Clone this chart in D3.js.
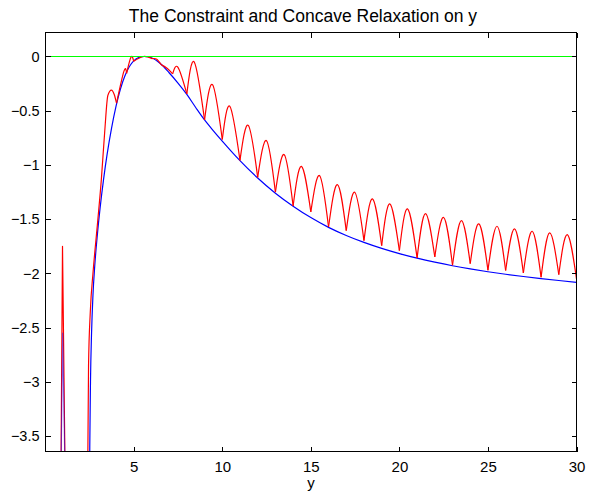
<!DOCTYPE html>
<html>
<head>
<meta charset="utf-8">
<script src="https://cdn.jsdelivr.net/npm/d3@7"></script>
<style>
  body { margin: 0; background: #fff; }
  svg text { font-family: "Liberation Sans", Arial, Helvetica, sans-serif; fill: #000; }
  .axis path, .axis line { stroke: #000; shape-rendering: crispEdges; }
</style>
</head>
<body>
<div id="chart"></div>
<script>
// Chart text
var TITLE = "The Constraint and Concave Relaxation on y";
var X_LABEL = "y";

// Tick values and labels
var xTicks = [5, 10, 15, 20, 25, 30];
var xTickLabels = ["5", "10", "15", "20", "25", "30"];
var yTicks = [0, -0.5, -1, -1.5, -2, -2.5, -3, -3.5];
var yTickLabels = ["0", "\u22120.5", "\u22121", "\u22121.5", "\u22122", "\u22122.5", "\u22123", "\u22123.5"];

// Axis limits
var xLimits = [0.02, 30];
var yLimits = [-3.641, 0.221];

// Green: constraint level
var greenX = [0.02, 30];
var greenY = [0, 0];

// Blue: concave relaxation
var blueX = [2.5, 2.52, 2.56, 2.62, 2.7, 2.8, 2.95, 3.1, 3.3, 3.5, 3.75, 4.0, 4.25, 4.5, 4.75, 5.0, 5.3, 5.6, 6.0, 6.5, 7.0, 7.5, 8.0, 8.5, 9.0, 9.5, 10, 10.5, 11, 12, 13, 14, 15, 16, 17, 18, 19, 20, 21, 22, 23, 24, 25, 26, 27, 28, 29, 30];
var blueY = [-4.2, -3.6, -3.0, -2.55, -2.2, -1.93, -1.64, -1.4, -1.13, -0.9, -0.66, -0.46, -0.3, -0.18, -0.095, -0.04, -0.008, 0, -0.012, -0.065, -0.15, -0.245, -0.35, -0.47, -0.585, -0.685, -0.78, -0.872, -0.96, -1.12, -1.26, -1.38, -1.485, -1.575, -1.65, -1.714, -1.769, -1.817, -1.859, -1.896, -1.929, -1.958, -1.984, -2.007, -2.028, -2.047, -2.065, -2.082];

// Blue: short piece under the red spike near y = 1
var blueSpikeX = [0.89, 0.99, 1.13];
var blueSpikeY = [-3.9, -2.55, -3.9];

// Red: the constraint, spike near y = 1
var redSpikeX = [0.89, 0.98, 1.13];
var redSpikeY = [-3.9, -1.75, -3.9];

// Red: rising branch up to the first cusp
var redRiseX = [2.4, 2.45, 2.55, 2.7, 2.95, 3.17, 3.36, 3.54, 3.74, 3.9, 4.03];
var redRiseY = [-3.9, -2.85, -2.35, -2.0, -1.55, -1.14, -0.7, -0.36, -0.31, -0.35, -0.43];

// Red: cusps (local minima) and arch tops between them
var redCuspX = [4.03, 4.6, 5.0, 6.05, 6.55, 7.2, 8, 9, 10, 11, 12, 13, 14, 15, 16, 17, 18, 19, 20, 21, 22, 23, 24, 25, 26, 27, 28, 29, 30];
var redCuspY = [-0.43, -0.155, -0.045, -0.02, -0.075, -0.16, -0.345, -0.585, -0.765, -0.958, -1.114, -1.25, -1.378, -1.432, -1.572, -1.605, -1.698, -1.743, -1.79, -1.857, -1.847, -1.924, -1.909, -1.97, -1.973, -1.994, -2.035, -2.01, -2.05];
var redPeakX = [4.45, 4.85, 5.55, 6.3, 6.9, 7.5, 8.42, 9.45, 10.43, 11.47, 12.5, 13.5, 14.47, 15.5, 16.5, 17.48, 18.48, 19.46, 20.46, 21.47, 22.5, 23.5, 24.49, 25.51, 26.5, 27.5, 28.48, 29.48];
var redPeakY = [-0.135, -0.005, 0.0, -0.025, -0.11, -0.1, -0.052, -0.26, -0.46, -0.635, -0.776, -0.905, -1.013, -1.099, -1.181, -1.252, -1.313, -1.359, -1.405, -1.448, -1.484, -1.513, -1.543, -1.565, -1.589, -1.611, -1.626, -1.642];

var zip = function(xs, ys) {
  return xs.map(function(x, i) { return [x, ys[i]]; });
};

var render = function() {
  var width = 590;
  var height = 498;
  var box = { left: 45.5, right: 576.5, top: 32.5, bottom: 451.5 };

  var svg = d3.select("#chart")
    .append("svg")
    .attr("width", width)
    .attr("height", height);

  var xScale = d3.scaleLinear().domain(xLimits).range([box.left, box.right]);
  var yScale = d3.scaleLinear().domain(yLimits).range([box.bottom, box.top]);

  svg.append("clipPath")
    .attr("id", "plot-clip")
    .append("rect")
    .attr("x", box.left)
    .attr("y", box.top)
    .attr("width", box.right - box.left)
    .attr("height", box.bottom - box.top);

  var plot = svg.append("g").attr("clip-path", "url(#plot-clip)");

  var line = function(curve) {
    return d3.line()
      .x(function(d) { return xScale(d[0]); })
      .y(function(d) { return yScale(d[1]); })
      .curve(curve);
  };

  var drawLine = function(points, color, curve, opacity) {
    plot.append("path")
      .datum(points)
      .attr("d", line(curve))
      .attr("fill", "none")
      .attr("stroke", color)
      .attr("stroke-width", 1.2)
      .attr("stroke-opacity", opacity || 1)
      .attr("stroke-linejoin", "round");
  };

  // Concave relaxation
  drawLine(zip(blueX, blueY), "#0000ff", d3.curveMonotoneX);

  // Constraint: spike, rise, then one arch per interval between cusps
  drawLine(zip(redSpikeX, redSpikeY), "#ff0000", d3.curveLinear);
  drawLine(zip(blueSpikeX, blueSpikeY), "#0000ff", d3.curveLinear, 0.5);
  drawLine(zip(redRiseX, redRiseY), "#ff0000", d3.curveMonotoneX);
  redPeakX.forEach(function(px, i) {
    var arch = [
      [redCuspX[i], redCuspY[i]],
      [px, redPeakY[i]],
      [redCuspX[i + 1], redCuspY[i + 1]]
    ];
    drawLine(arch, "#ff0000", d3.curveNatural);
  });

  // Zero level
  drawLine(zip(greenX, greenY), "#00ff00", d3.curveLinear);

  // Axes (ticks point inward on all four sides)
  var tickLen = 5;
  svg.append("g")
    .attr("class", "axis")
    .attr("transform", "translate(0," + box.bottom + ")")
    .call(d3.axisBottom(xScale)
      .tickValues(xTicks)
      .tickSizeInner(-tickLen)
      .tickSizeOuter(0)
      .tickPadding(10)
      .tickFormat(function(d, i) { return xTickLabels[i]; }))
    .call(function(g) { g.selectAll("text").attr("font-size", 15).attr("fill", "#000"); });

  svg.append("g")
    .attr("class", "axis")
    .attr("transform", "translate(0," + box.top + ")")
    .call(d3.axisTop(xScale)
      .tickValues(xTicks)
      .tickSizeInner(-tickLen)
      .tickSizeOuter(0)
      .tickFormat(""));

  svg.append("g")
    .attr("class", "axis")
    .attr("transform", "translate(" + box.left + ",0)")
    .call(d3.axisLeft(yScale)
      .tickValues(yTicks)
      .tickSizeInner(-tickLen)
      .tickSizeOuter(0)
      .tickPadding(6)
      .tickFormat(function(d, i) { return yTickLabels[i]; }))
    .call(function(g) { g.selectAll("text").attr("font-size", 14.5).attr("fill", "#000"); });

  svg.append("g")
    .attr("class", "axis")
    .attr("transform", "translate(" + box.right + ",0)")
    .call(d3.axisRight(yScale)
      .tickValues(yTicks)
      .tickSizeInner(-tickLen)
      .tickSizeOuter(0)
      .tickFormat(""));

  svg.selectAll(".axis .domain").remove();

  // Box
  svg.append("rect")
    .attr("x", box.left)
    .attr("y", box.top)
    .attr("width", box.right - box.left)
    .attr("height", box.bottom - box.top)
    .attr("fill", "none")
    .attr("stroke", "#000")
    .attr("stroke-width", 1)
    .attr("shape-rendering", "crispEdges");

  // Title and axis label
  svg.append("text")
    .attr("x", 303)
    .attr("y", 21.5)
    .attr("text-anchor", "middle")
    .attr("font-size", 17.5)
    .text(TITLE);

  svg.append("text")
    .attr("x", (box.left + box.right) / 2)
    .attr("y", 488)
    .attr("text-anchor", "middle")
    .attr("font-size", 15)
    .text(X_LABEL);
};

window.onload = render;
</script>
</body>
</html>
